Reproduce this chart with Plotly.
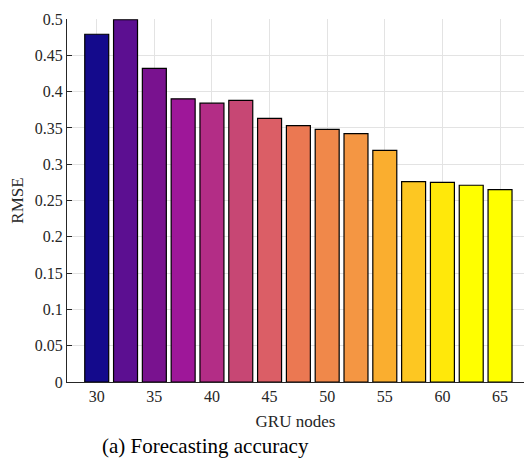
import plotly.graph_objects as go

gru_nodes = [30, 32.5, 35, 37.5, 40, 42.5, 45, 47.5, 50, 52.5, 55, 57.5, 60, 62.5, 65]
rmse = [0.479, 0.499, 0.432, 0.390, 0.384, 0.388, 0.363, 0.353, 0.348, 0.342,
        0.319, 0.276, 0.275, 0.271, 0.265]
bar_colors = ["#140A8C", "#5C0F91", "#79128F", "#9E1799", "#B32D86", "#C74774",
              "#DB5E66", "#EB7852", "#F0884A", "#F49643", "#FAAE2F", "#FDC722",
              "#FFE80A", "#FFFF00", "#FFFF00"]
x_ticks = [30, 35, 40, 45, 50, 55, 60, 65]
y_ticks = [0, 0.05, 0.1, 0.15, 0.2, 0.25, 0.3, 0.35, 0.4, 0.45, 0.5]
y_tick_text = ["0", "0.05", "0.1", "0.15", "0.2", "0.25", "0.3", "0.35", "0.4", "0.45", "0.5"]

font = "Liberation Serif"

fig = go.Figure(go.Bar(
    x=gru_nodes, y=rmse, width=2.08,
    marker=dict(color=bar_colors, line=dict(color="black", width=1.2)),
))

fig.update_layout(
    width=524, height=458,
    margin=dict(l=67, r=0, t=19, b=76),
    paper_bgcolor="white", plot_bgcolor="white",
    showlegend=False,
    font=dict(family=font, size=16, color="#262626"),
    xaxis=dict(range=[27.42, 67.08], tickvals=x_ticks, showgrid=True,
               gridcolor="#e3e3e3", gridwidth=1, showline=True, linecolor="#262626",
               linewidth=1, ticks="", zeroline=False,
               title=dict(text="GRU nodes", font=dict(family=font, size=17), standoff=10),
               tickfont=dict(family=font, size=16)),
    yaxis=dict(range=[0, 0.5], tickvals=y_ticks, ticktext=y_tick_text, showgrid=True,
               gridcolor="#e3e3e3", gridwidth=1, showline=True, linecolor="#262626",
               linewidth=1, ticks="inside", ticklen=5, tickcolor="#262626",
               zeroline=False,
               title=dict(text="RMSE", font=dict(family=font, size=17), standoff=6),
               tickfont=dict(family=font, size=16)),
    annotations=[dict(text="(a) Forecasting accuracy", xref="paper", yref="paper",
                      x=(100 - 67) / 457, y=-(446 - 382) / 363, xanchor="left",
                      yanchor="middle", showarrow=False,
                      font=dict(family=font, size=21, color="black"))],
)

fig.write_html("out.html")
